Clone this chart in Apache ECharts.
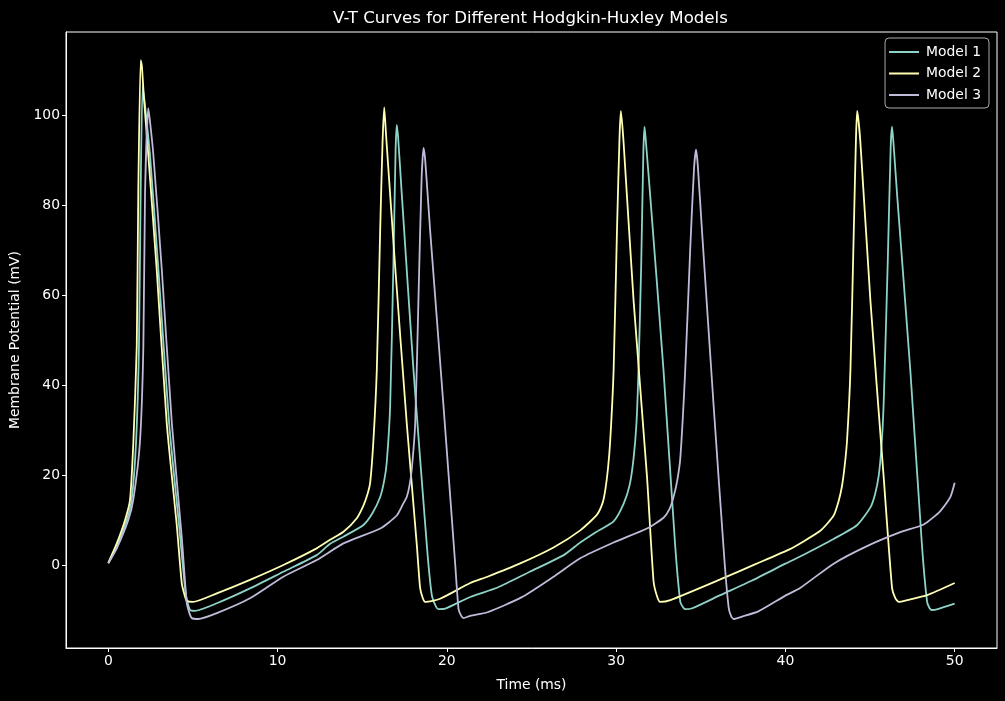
<!DOCTYPE html>
<html>
<head>
<meta charset="utf-8">
<script src="https://cdn.jsdelivr.net/npm/echarts@6/dist/echarts.min.js"></script>
<style>
html,body{margin:0;padding:0;background:#000;}
#chart{width:1005px;height:701px;}
</style>
</head>
<body>
<div id="chart"></div>
<script>
const seriesNames = ['Model 1', 'Model 2', 'Model 3'];
const xTicks = [0, 10, 20, 30, 40, 50];
const yTicks = [0, 20, 40, 60, 80, 100];

// Model 1 (time ms, potential mV)
const t1 = [0,0.5,1.09,1.38,1.64,1.81,1.91,2.03,2.2,2.46,2.96,3.59,4.2,4.5,4.63,4.83,5.1,6.41,8.37,10.34,12.31,13.1,13.89,15.07,15.6,16.06,16.3,16.45,16.65,16.84,16.97,17.04,17.12,17.34,18.03,18.82,19.11,19.35,19.5,19.9,21.38,23.0,24.9,26.9,27.88,28.8,29.85,30.44,30.8,31.03,31.2,31.32,31.48,31.61,31.68,31.76,32.01,32.8,33.49,33.79,33.95,34.08,34.5,36.15,38.0,40.0,40.87,42.85,44.24,45.02,45.3,45.51,45.67,45.8,46.04,46.22,46.3,46.38,46.6,47.38,48.07,48.37,48.52,48.66,49.0,50.0];
const v1 = [0.4,4.1,10,14.5,27.4,48.6,82.7,106.5,101,91.2,65.6,31.6,8,-4,-7.5,-10,-10.2,-8.5,-5.2,-1.5,2.2,4.7,6.3,8.9,11.5,15.1,18.8,22.9,35.4,66.6,92,97.8,95,82.2,43.2,4.2,-6.7,-9.2,-9.8,-9.7,-7.1,-5.0,-1.5,2.2,5.0,7.3,9.7,13.6,17.8,23.7,31.5,43.2,66.6,92,97.4,94,82.2,43.2,4.2,-8.2,-9.4,-9.8,-9.6,-6.7,-3.5,0.3,1.9,5.8,8.9,12.8,15.8,19.8,26,35.4,66.6,93,97.4,94,82.2,43.2,4.2,-8.2,-9.6,-10,-9.8,-8.6];

// Model 2
const t2 = [0,0.5,0.99,1.28,1.48,1.68,1.77,1.91,1.98,2.1,2.36,2.86,3.45,4.04,4.34,4.5,4.63,5.0,6.41,8.37,10.34,12.31,13.1,13.89,14.68,15.07,15.3,15.47,15.66,15.86,16.06,16.2,16.3,16.41,16.94,17.63,18.23,18.42,18.58,18.72,19.6,21.38,22.4,24.3,26.3,27.88,28.87,29.2,29.36,29.52,29.65,29.85,30.05,30.2,30.28,30.44,31.03,31.82,32.21,32.42,32.6,33.2,36.15,38.3,40.3,40.87,42.06,42.85,43.15,43.34,43.5,43.64,43.84,44.04,44.17,44.24,44.43,45.02,45.8,46.3,46.5,46.69,47.2,48.37,50.0];
const v2 = [0.5,4.8,10,14.4,27.4,48.6,82.7,112.2,111,104,91.2,65.6,31.6,9,-4.1,-6.6,-7.9,-8.2,-6.3,-3.3,0,3.7,5.6,7.4,10.4,13.2,15.6,18.3,27.6,43.2,74.4,93.9,101.7,95.4,66.6,31.5,4.2,-5.1,-7.4,-8.2,-7.5,-4.0,-2.6,0.3,3.9,7.7,11.2,13.8,16.7,21.5,27.6,43.2,74.4,95,100.9,93.9,58.8,19.8,-3.6,-7.0,-8.2,-7.8,-3.2,0.3,3.6,4.8,7.6,11.0,14.3,17.5,22,27.6,43.2,74.4,95,100.9,93.9,58.8,19.8,-5.1,-7.4,-8.2,-7.8,-6.7,-4.0];

// Model 3
const t3 = [0,0.5,1.18,1.48,1.87,2.07,2.17,2.36,2.45,2.66,3.16,3.75,4.34,4.63,4.8,4.93,5.3,6.41,8.37,10.34,12.31,13.89,16.06,17.04,17.43,17.63,17.8,17.93,18.13,18.32,18.5,18.62,18.72,19.01,19.8,20.49,20.69,20.85,20.98,21.38,22.4,24.4,26.3,27.88,29.85,31.82,32.8,33.15,33.39,33.6,33.79,34.08,34.38,34.6,34.72,34.82,35.07,35.76,36.4,36.65,36.8,36.95,37.4,38.4,40.0,40.87,42.85,44.82,46.79,48.17,49.15,49.74,50.0];
const v3 = [0.4,3.7,10,14.6,27.4,48.6,82.7,101.5,99,91.2,65.6,31.6,6.1,-8.3,-10.8,-11.8,-12,-10.7,-7.4,-2.6,1.1,4.8,8.1,11.0,13.7,15.1,17.8,21.4,31.5,58.8,85,92.7,90,74.4,35.4,0.3,-9.8,-11.3,-11.8,-11.3,-10.5,-7.2,-2.6,1.5,5.0,8.1,10.5,12.4,15.1,18.6,23.7,43.2,70.5,88,92.3,89,74.4,35.4,1,-9.5,-11.4,-12,-11.5,-10.3,-6.8,-5.1,0.3,4.2,7.3,9.0,12.0,15.1,18.3];

const colors = ['#8dd3c7', '#feffb3', '#bfbbd9'];
const times = [t1, t2, t3];
const volts = [v1, v2, v3];

const font = 'DejaVu Sans';
const chart = echarts.init(document.getElementById('chart'), null, {renderer: 'canvas'});
chart.setOption({
  backgroundColor: '#000',
  animation: false,
  title: {
    text: 'V-T Curves for Different Hodgkin-Huxley Models',
    left: 328, top: 5,
    textStyle: {color: '#fff', fontFamily: font, fontSize: 16.6, fontWeight: 'normal'}
  },
  legend: {
    data: seriesNames,
    orient: 'vertical',
    right: 16, top: 38,
    icon: 'rect',
    itemWidth: 30, itemHeight: 2, itemGap: 7.5,
    padding: [7, 8, 6, 4],
    backgroundColor: 'rgba(0,0,0,0.8)',
    borderColor: '#aaa', borderWidth: 1, borderRadius: 4,
    textStyle: {color: '#fff', fontFamily: font, fontSize: 13.9, lineHeight: 14, padding: [0,0,0,2]}
  },
  grid: {
    left: 66, right: 8, top: 32, bottom: 53,
    outerBoundsMode: 'none',
    containLabel: false,
    show: true, borderColor: '#fff', borderWidth: 1, backgroundColor: '#000'
  },
  xAxis: {
    type: 'value', min: -2.5, max: 52.5,
    name: 'Time (ms)', nameLocation: 'middle', nameGap: 30,
    nameTextStyle: {color: '#fff', fontFamily: font, fontSize: 13.9},
    axisLine: {show: true, onZero: false, lineStyle: {color: '#fff', width: 1}},
    axisTick: {show: true, length: 4, lineStyle: {color: '#fff'}, customValues: xTicks},
    axisLabel: {color: '#fff', fontFamily: font, fontSize: 13.9, margin: 6, customValues: xTicks},
    splitLine: {show: false}
  },
  yAxis: {
    type: 'value', min: -18.44, max: 118.44,
    name: 'Membrane Potential (mV)', nameLocation: 'middle', nameGap: 42,
    nameTextStyle: {color: '#fff', fontFamily: font, fontSize: 13.9},
    axisLine: {show: true, onZero: false, lineStyle: {color: '#fff', width: 1}},
    axisTick: {show: true, length: 4, lineStyle: {color: '#fff'}, customValues: yTicks},
    axisLabel: {color: '#fff', fontFamily: font, fontSize: 13.9, margin: 6, customValues: yTicks},
    splitLine: {show: false}
  },
  series: seriesNames.map((name, i) => ({
    name: name,
    type: 'line',
    data: times[i].map((t, k) => [t, volts[i][k]]),
    symbol: 'none',
    smooth: 0.2,
    color: colors[i],
    lineStyle: {color: colors[i], width: 1.8},
    z: 2 + i
  }))
});
</script>
</body>
</html>
